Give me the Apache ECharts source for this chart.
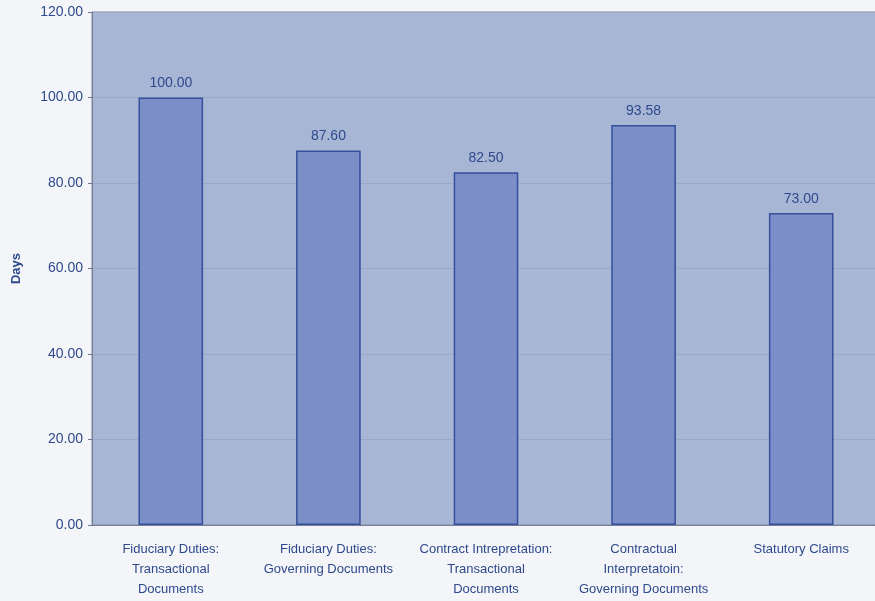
<!DOCTYPE html>
<html><head><meta charset="utf-8">
<script src="https://cdn.jsdelivr.net/npm/echarts@6/dist/echarts.min.js"></script>
<style>html,body{margin:0;padding:0;background:#f4f5f8;}#c{width:875px;height:601px;}</style>
</head><body><div id="c"></div>
<script>
const categories = ["Fiduciary Duties:\nTransactional\nDocuments","Fiduciary Duties:\nGoverning Documents","Contract Intrepretation:\nTransactional\nDocuments","Contractual\nInterpretatoin:\nGoverning Documents","Statutory Claims"];
const values = [100.00, 87.60, 82.50, 93.58, 73.00];
const yTicks = [0, 20, 40, 60, 80, 100, 120];
const chart = echarts.init(document.getElementById('c'));
const txt = '#2e4a8c';
const ff = 'Arial, "Liberation Sans", sans-serif';
chart.setOption({
  backgroundColor: '#f4f5f8',
  animation: false,
  grid: {left: 92, top: 12, height: 513, width: 788, outerBoundsMode: 'none', containLabel: false, show: true, backgroundColor: '#a8b6d5', borderColor: '#7f8aa3', borderWidth: 1},
  xAxis: {type: 'category', data: categories,
    axisLine: {show: true, lineStyle: {color: '#6f7890', type: 'dotted'}},
    axisTick: {show: false},
    axisLabel: {color: txt, fontFamily: ff, fontSize: 13, lineHeight: 20, margin: 14, interval: 0}},
  yAxis: {type: 'value', min: 0, max: 120, interval: 20,
    name: 'Days', nameLocation: 'middle', nameGap: 69,
    nameTextStyle: {color: txt, fontWeight: 'bold', fontFamily: ff, fontSize: 13},
    axisLine: {show: true, lineStyle: {color: '#6f7890', type: 'dotted'}},
    axisTick: {show: true, length: 4, lineStyle: {color: '#6f7890'}},
    axisLabel: {color: txt, fontFamily: ff, fontSize: 14, margin: 9, formatter: v => yTicks.includes(v) ? v.toFixed(2) : ''},
    splitLine: {show: true, lineStyle: {color: '#9aa8c8', width: 1}}},
  series: [{type: 'bar', data: values, barWidth: '41%',
    itemStyle: {color: '#7b8ec7', borderColor: '#34509c', borderWidth: 1.5},
    label: {show: true, position: 'top', distance: 7, color: txt, fontFamily: ff, fontSize: 14, formatter: p => p.value.toFixed(2)}}]
});
</script></body></html>
